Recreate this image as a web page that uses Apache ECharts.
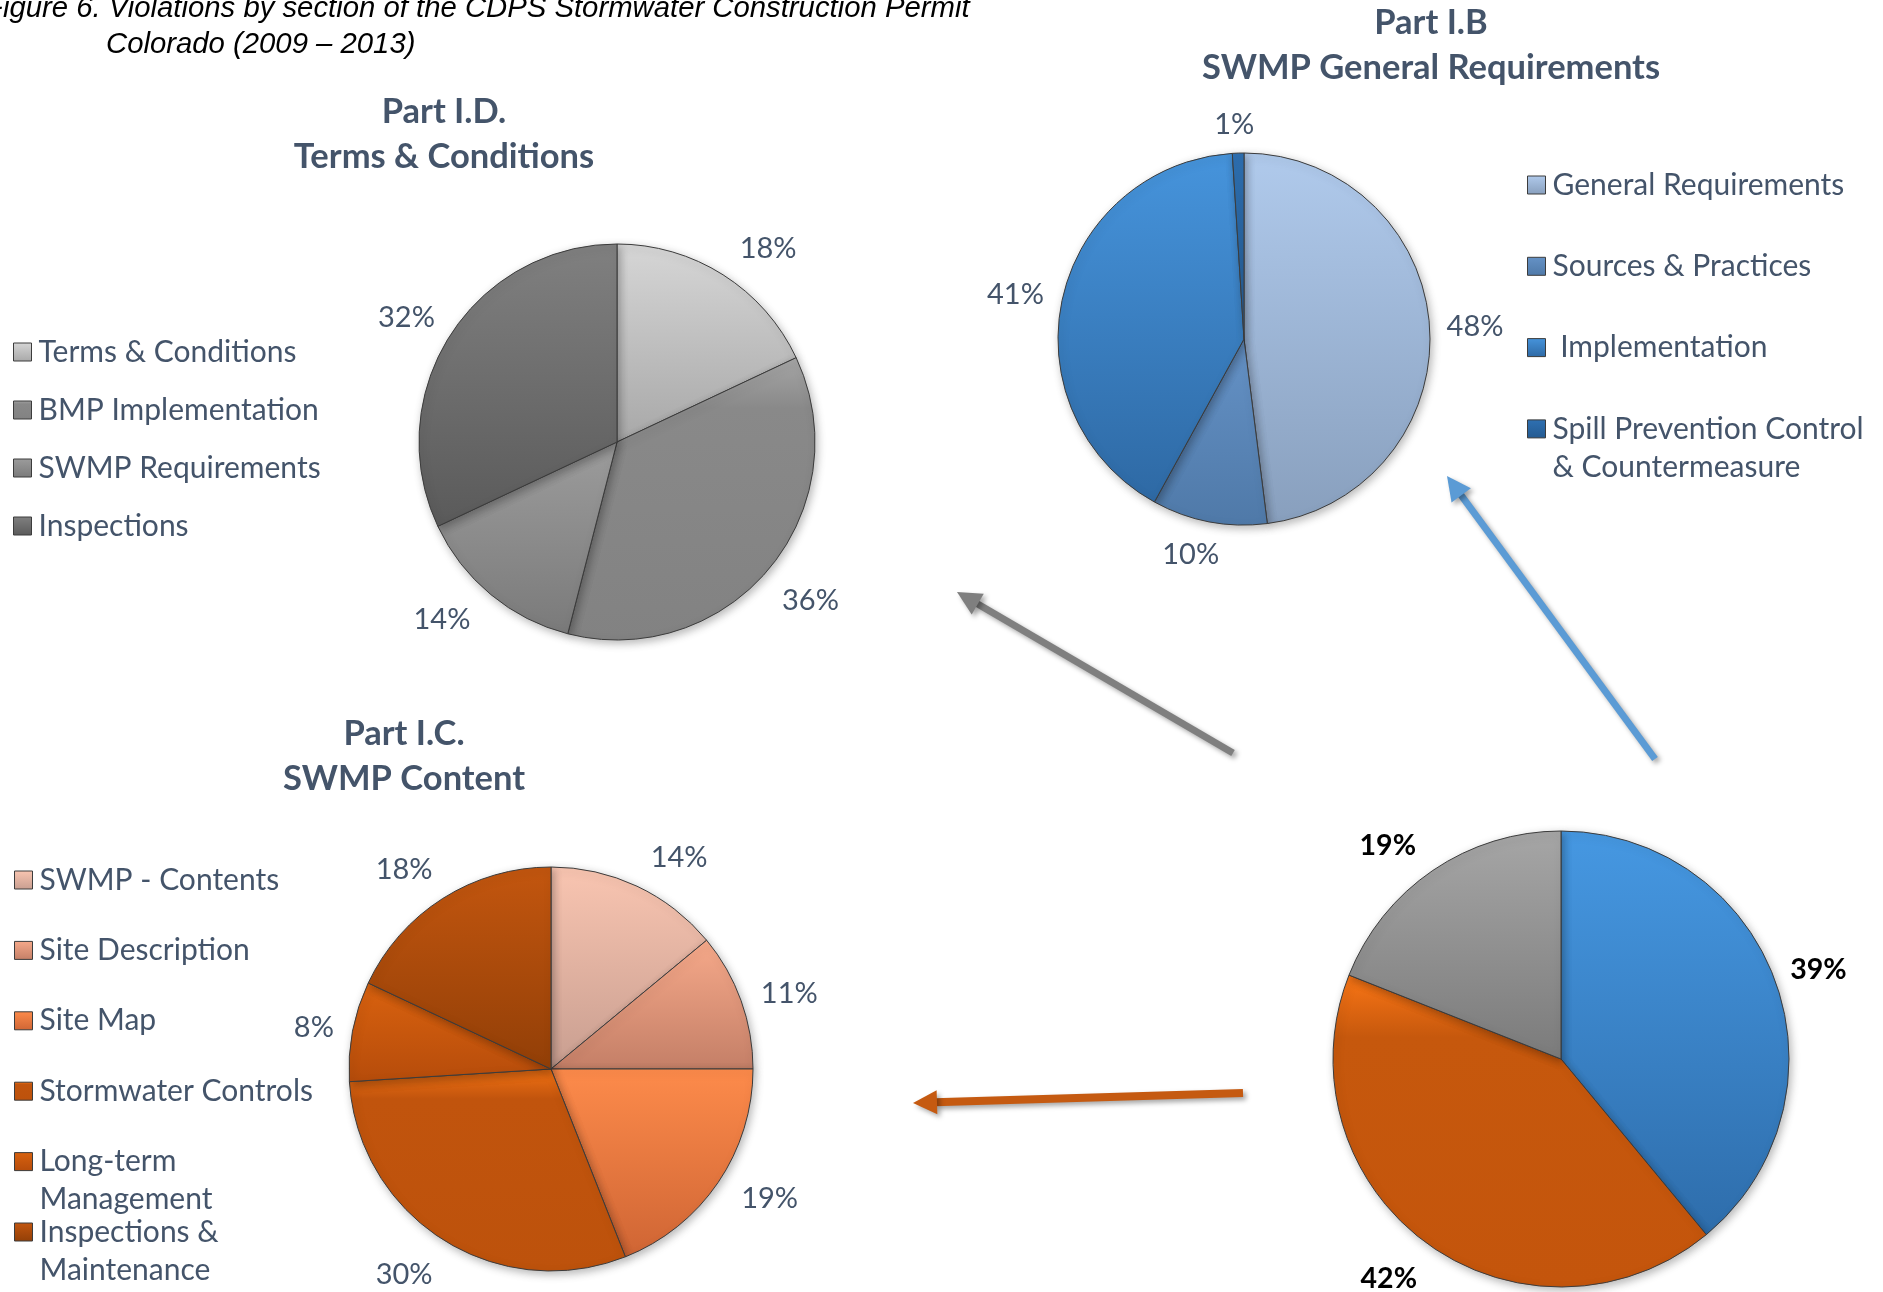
<!DOCTYPE html>
<html>
<head>
<meta charset="utf-8">
<title>Violations by section of the CDPS Stormwater Construction Permit</title>
<script src="https://cdn.jsdelivr.net/npm/echarts@6/dist/echarts.min.js"></script>
<style>
  html, body { margin: 0; padding: 0; background: #ffffff; }
  #chart { width: 1883px; height: 1292px; }
</style>
</head>
<body>
<div id="chart"></div>
<script>
// ---- Data: share of violations (%) ----
// Overall split between the three permit sections
const overallNames  = ['Part I.B', 'Part I.C', 'Part I.D'];
const overallValues = [39, 42, 19];

// Part I.D. Terms & Conditions
const idNames  = ['Terms & Conditions', 'BMP Implementation', 'SWMP Requirements', 'Inspections'];
const idValues = [18, 36, 14, 32];

// Part I.B SWMP General Requirements
const ibNames  = ['General Requirements', 'Sources & Practices', 'Implementation', 'Spill Prevention Control\n& Countermeasure'];
const ibValues = [48, 10, 41, 1];

// Part I.C. SWMP Content
const icNames  = ['SWMP - Contents', 'Site Description', 'Site Map', 'Stormwater Controls', 'Long-term\nManagement', 'Inspections &\nMaintenance'];
const icValues = [14, 11, 19, 30, 8, 18];

// ---- Layout: distance of each percentage label from its pie's rim ----
const overallLabelGap = [22, 34, 30];
const idLabelGap      = [31, 33, 32, 26];
const ibLabelGap      = [17, 32, 19, 29];
const icLabelGap      = [32, 21, 28, 34, 19, 32];

// ---- Layout: small [dx, dy] nudges applied to the placed labels ----
const overallLabelNudge = [[-6, -5], [10, 8], [0, 0]];
const idLabelNudge      = [[0, 0], [-13, 11], [0, 0], [7, -4]];
const ibLabelNudge      = [[0, 0], [16, 2], [0, 0], [17, 1]];
const icLabelNudge      = [[0, 0], [0, 0], [0, 0], [8, 6], [0, 0], [7, -2]];

// ---- Styling ----
const TEXT = '#44546a';
const FONT = 'Lato, "Open Sans", sans-serif';

function grad(stops) {
  return {
    type: 'linear', x: 0, y: 0, x2: 0, y2: 1,
    colorStops: stops.map(function (c, i) {
      return Array.isArray(c) ? { offset: c[0], color: c[1] } : { offset: i / (stops.length - 1), color: c };
    })
  };
}

const overallColors = [
  grad(['#4698e2', '#2e6dab']),
  grad([[0, '#fa7616'], [0.2, '#c6580d'], [1, '#c4550c']]),
  grad(['#a6a6a6', '#7b7b7b'])
];
const idColors = [
  grad(['#d6d6d6', '#a8a8a8']),
  grad([[0, '#a6a6a6'], [0.18, '#898989'], [1, '#828282']]),
  grad(['#9c9c9c', '#7a7a7a']),
  grad(['#808080', '#5a5a5a'])
];
const ibColors = [
  grad(['#b0caec', '#889fbd']),
  grad(['#6592c6', '#4f79a8']),
  grad(['#4694dc', '#2e69a4']),
  grad(['#2e70b2', '#245a90'])
];
const icColors = [
  grad(['#f9c5b1', '#c89e90']),
  grad(['#f6a98a', '#c47f67']),
  grad(['#fd8b4b', '#cf6534']),
  grad([[0, '#f47314'], [0.15, '#c1540d'], [1, '#bd520c']]),
  grad(['#d9620f', '#b64c0b']),
  grad(['#c3560f', '#923f07'])
];

function pie(names, values, colors, labelGaps, labelNudges, center, radius, labelText) {
  return {
    type: 'pie',
    center: center,
    radius: radius,
    startAngle: 90,
    clockwise: true,
    avoidLabelOverlap: false,
    silent: true,
    itemStyle: {
      borderColor: '#3c3c3c',
      borderWidth: 1,
      shadowBlur: 8,
      shadowOffsetX: 2,
      shadowOffsetY: 3,
      shadowColor: 'rgba(0,0,0,0.28)'
    },
    label: Object.assign({
      show: true,
      position: 'outside',
      formatter: '{c}%',
      distanceToLabelLine: 0
    }, labelText),
    labelLine: { show: false, length: 20, length2: 0 },
    labelLayout: function (p) {
      const n = labelNudges[p.dataIndex] || [0, 0];
      return { dx: n[0], dy: n[1] };
    },
    data: names.map(function (n, i) {
      return {
        name: n,
        value: values[i],
        itemStyle: { color: colors[i] },
        labelLine: { show: false, length: labelGaps[i], length2: 0 }
      };
    })
  };
}

const pctLabel = { fontFamily: FONT, fontSize: 29, color: TEXT };
const boldLabel = { fontFamily: FONT, fontSize: 28.5, fontWeight: 'bold', color: '#000000' };

// ---- Legends ----
const LINE_H = 38;
const legendText = { fontFamily: FONT, fontSize: 30, color: TEXT, lineHeight: LINE_H, padding: [0, 0, 0, 2] };

// Every entry is laid out as three text lines with the name on the middle one,
// so the swatch sits level with the first line of a wrapped name.
function threeLine(name) {
  const shown = name === 'Implementation' ? ' ' + name : name;
  return shown.indexOf('\n') >= 0 ? '\n' + shown : '\n' + shown + '\n';
}

function legend(names, left, top, gap, wrapped) {
  const l = {
    data: names,
    orient: 'vertical',
    left: left,
    top: top,
    height: 800,
    padding: 0,
    itemGap: gap,
    itemWidth: 18,
    itemHeight: 18,
    icon: 'rect',
    selectedMode: false,
    itemStyle: { borderColor: '#3c3c3c', borderWidth: 1 },
    textStyle: legendText
  };
  if (wrapped) l.formatter = threeLine;
  return l;
}

// ---- Arrows linking the overall pie to each section ----
function arrow(x1, y1, x2, y2, color, width) {
  const dx = x2 - x1, dy = y2 - y1;
  const len = Math.sqrt(dx * dx + dy * dy);
  const ux = dx / len, uy = dy / len;
  const headLen = 24, headHalf = 12;
  const bx = x2 - ux * headLen, by = y2 - uy * headLen;
  const shadow = { shadowBlur: 5, shadowOffsetX: 3, shadowOffsetY: 3, shadowColor: 'rgba(0,0,0,0.35)' };
  return {
    type: 'group',
    silent: true,
    children: [
      {
        type: 'line',
        shape: { x1: x1, y1: y1, x2: bx + ux * 2, y2: by + uy * 2 },
        style: Object.assign({ stroke: color, lineWidth: width, lineCap: 'butt' }, shadow)
      },
      {
        type: 'polygon',
        shape: { points: [[x2, y2], [bx - uy * headHalf, by + ux * headHalf], [bx + uy * headHalf, by - ux * headHalf]] },
        style: Object.assign({ fill: color }, shadow)
      }
    ]
  };
}

const titleFont = { fontFamily: FONT, fontWeight: 'bold', fontSize: 34.5, lineHeight: 45, color: TEXT };
const captionFont = {
  fontFamily: '"Liberation Sans Narrow", "Arial Narrow", "Liberation Sans", sans-serif',
  fontStyle: 'italic', fontWeight: 'normal', fontSize: 29.3, lineHeight: 36, color: '#000000'
};

const chart = echarts.init(document.getElementById('chart'), null, { renderer: 'canvas' });

chart.setOption({
  backgroundColor: '#ffffff',
  animation: false,
  title: [
    { text: 'Figure 6. Violations by section of the CDPS Stormwater Construction Permit', left: -15, top: -9.5, padding: 0, textStyle: captionFont },
    { text: 'Colorado (2009 \u2013 2013)', left: 106, top: 26.5, padding: 0, textStyle: captionFont },
    { text: 'Part I.D.\nTerms & Conditions', left: 444, top: 89, padding: 0, textAlign: 'center', textStyle: titleFont },
    { text: 'Part I.B\nSWMP General Requirements', left: 1431, top: 0, padding: 0, textAlign: 'center', textStyle: titleFont },
    { text: 'Part I.C.\nSWMP Content', left: 404, top: 711, padding: 0, textAlign: 'center', textStyle: titleFont }
  ],
  legend: [
    legend(idNames, 13, 333, 20, false),
    legend(ibNames, 1527, 128, -32.7, true),
    legend(icNames, 14, 823, -43.6, true)
  ],
  series: [
    pie(idNames, idValues, idColors, idLabelGap, idLabelNudge, [617, 442], 198, pctLabel),
    pie(ibNames, ibValues, ibColors, ibLabelGap, ibLabelNudge, [1244, 339], 186, pctLabel),
    pie(icNames, icValues, icColors, icLabelGap, icLabelNudge, [551, 1069], 202, pctLabel),
    pie(overallNames, overallValues, overallColors, overallLabelGap, overallLabelNudge, [1561, 1059], 228, boldLabel)
  ],
  graphic: [
    arrow(1233, 753, 957, 592, '#7f7f7f', 7),
    arrow(1655, 759, 1447, 476, '#5b9bd5', 7),
    arrow(1243, 1093, 913, 1103, '#c55a11', 8)
  ]
});
</script>
</body>
</html>
